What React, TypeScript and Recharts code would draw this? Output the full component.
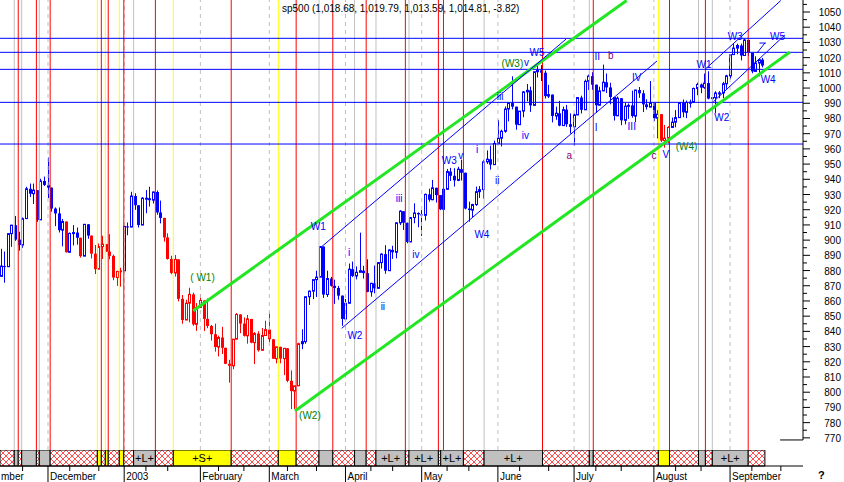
import React from "react";
import {
  ComposedChart,
  Bar,
  Line,
  XAxis,
  YAxis,
  ReferenceLine,
  ReferenceArea,
  ReferenceDot,
} from "recharts";

// trading day index 0 = 2002-11-11 ... 211 = 2003-09-15
const opens = [
  894.74, 876.19, 882.95, 882.53, 904.27, 909.83, 900.36, 896.74, 914.15, 933.76,
  930.55, 932.87, 913.31, 938.87, 936.31, 934.53, 920.75, 917.58, 906.55, 912.23,
  892.0, 904.45, 904.96, 901.58, 889.48, 910.4, 902.99, 891.12, 880.9, 895.76,
  897.38, 892.47, 889.66, 875.4, 879.39, 879.82, 909.03, 908.59, 929.01, 922.93,
  909.93, 927.57, 927.57, 926.26, 931.66, 918.22, 914.6, 901.78, 887.62, 878.36,
  887.34, 861.4, 847.48, 858.54, 864.36, 844.61, 855.7, 860.32, 848.2, 843.59,
  838.15, 829.69, 835.97, 829.2, 818.68, 817.37, 834.89, 851.17, 845.13, 837.1,
  848.17, 832.58, 838.57, 827.55, 837.28, 841.15, 834.81, 821.99, 829.85, 822.1,
  828.89, 807.48, 800.73, 804.19, 831.9, 833.27, 862.79, 866.45, 874.02, 875.67,
  895.79, 864.23, 874.74, 869.95, 868.52, 863.5, 848.18, 858.48, 880.9, 876.45,
  878.85, 879.93, 878.29, 865.99, 871.58, 868.3, 885.23, 890.81, 879.91, 893.58,
  892.01, 911.37, 919.02, 911.43, 898.81, 914.84, 917.84, 916.92, 916.3, 930.08,
  926.55, 934.39, 929.62, 920.27, 933.41, 945.11, 942.3, 939.28, 946.67, 944.3,
  920.77, 919.73, 923.42, 931.87, 933.22, 951.48, 953.22, 949.64, 963.59, 967.0,
  971.56, 986.24, 990.14, 987.76, 975.93, 984.84, 997.48, 998.51, 988.61, 1010.74,
  1011.66, 1010.09, 994.7, 995.69, 981.64, 983.45, 975.32, 985.82, 976.22, 974.5,
  982.32, 993.75, 985.7, 1004.42, 1007.84, 1002.21, 988.7, 998.14, 1003.86, 1000.42,
  994.09, 981.73, 993.32, 978.8, 988.11, 988.61, 981.6, 998.68, 996.52, 989.28,
  987.49, 990.31, 980.15, 982.82, 965.46, 967.08, 974.12, 977.59, 980.59, 990.35,
  984.03, 990.51, 990.67, 999.74, 1002.35, 1000.3, 1003.27, 993.06, 993.71, 996.73,
  996.79, 1002.84, 1008.01, 1021.99, 1026.27, 1027.97, 1021.39, 1031.64, 1023.17, 1010.92,
  1016.42, 1018.68,
];
const highs = [
  894.9, 894.3, 892.5, 904.3, 910.1, 915.9, 905.5, 915.0, 935.1, 937.2,
  937.2, 932.9, 940.4, 941.8, 954.3, 934.6, 921.5, 921.5, 913.9, 912.3,
  905.0, 909.9, 908.3, 901.6, 910.5, 910.5, 903.0, 896.8, 897.8, 902.9,
  897.5, 903.9, 890.5, 879.9, 881.9, 909.1, 911.6, 931.8, 930.8, 923.0,
  928.3, 932.9, 935.1, 932.0, 932.6, 926.0, 914.7, 904.5, 889.7, 890.2,
  887.4, 863.9, 860.8, 868.7, 865.5, 858.6, 864.6, 860.4, 861.6, 844.2,
  845.1, 837.2, 843.0, 829.3, 821.3, 834.9, 852.0, 851.2, 849.2, 850.8,
  848.2, 839.5, 840.1, 842.2, 847.0, 852.3, 835.0, 829.9, 829.9, 829.0,
  829.0, 814.3, 804.3, 832.5, 841.4, 862.9, 866.9, 874.1, 879.9, 895.9,
  895.9, 879.9, 875.8, 874.0, 869.9, 863.6, 861.3, 884.6, 885.9, 882.7,
  904.9, 883.1, 887.4, 872.0, 883.3, 885.3, 891.3, 896.7, 893.8, 896.3,
  911.7, 919.7, 919.1, 911.5, 915.0, 924.2, 918.3, 919.7, 930.6, 933.8,
  939.6, 934.5, 929.7, 933.8, 946.8, 947.5, 947.3, 948.2, 952.9, 944.4,
  925.3, 923.9, 935.2, 935.5, 952.8, 959.0, 962.1, 965.4, 979.1, 972.6,
  987.9, 990.2, 1007.7, 987.8, 984.9, 998.0, 1002.7, 1000.9, 1010.9, 1015.3,
  1015.1, 1011.5, 1002.1, 995.8, 987.8, 991.6, 987.8, 988.9, 983.3, 983.3,
  993.8, 995.0, 1005.6, 1008.9, 1010.4, 1002.3, 1000.9, 1015.4, 1009.6, 1003.5,
  994.2, 994.5, 993.4, 990.3, 989.9, 998.3, 998.9, 1000.7, 998.6, 992.6,
  1004.6, 990.4, 985.5, 982.9, 975.7, 974.9, 980.6, 985.5, 990.4, 992.5,
  991.8, 992.4, 1000.3, 1003.5, 1003.0, 1009.5, 1011.0, 993.8, 997.9, 998.0,
  1004.1, 1008.7, 1022.0, 1029.3, 1029.2, 1029.2, 1032.4, 1031.7, 1023.2, 1020.9,
  1019.6, 1019.79,
];
const lows = [
  874.9, 876.1, 872.0, 882.5, 895.6, 899.5, 893.1, 894.9, 914.1, 928.4,
  923.8, 912.1, 913.3, 935.6, 927.7, 918.7, 909.2, 905.0, 895.9, 891.9,
  891.9, 896.5, 897.0, 888.5, 889.4, 900.9, 887.9, 877.7, 880.9, 887.6,
  892.3, 887.5, 873.6, 869.9, 869.4, 879.8, 903.2, 908.5, 919.9, 908.3,
  909.9, 917.7, 922.1, 924.1, 916.7, 911.0, 899.0, 887.2, 877.6, 876.0,
  859.7, 845.0, 847.4, 845.9, 843.7, 840.3, 855.6, 840.2, 842.1, 833.9,
  826.7, 823.5, 825.1, 818.5, 806.3, 815.1, 834.8, 838.8, 836.6, 831.9,
  832.2, 818.5, 826.7, 827.5, 837.2, 832.7, 821.9, 819.0, 819.0, 811.2,
  806.6, 788.9, 789.0, 804.1, 828.3, 831.9, 857.4, 861.2, 862.6, 875.6,
  862.0, 862.6, 869.4, 858.1, 860.8, 843.7, 847.9, 858.4, 875.7, 874.2,
  878.8, 874.7, 865.7, 862.8, 865.0, 868.2, 881.3, 877.9, 879.8, 887.7,
  888.0, 909.9, 906.7, 897.9, 898.7, 911.1, 908.5, 902.8, 912.9, 925.3,
  926.3, 924.7, 919.7, 920.2, 933.3, 938.9, 935.2, 938.8, 939.2, 920.2,
  912.1, 914.8, 922.5, 927.7, 927.3, 950.1, 946.4, 949.6, 963.5, 961.6,
  970.7, 978.1, 986.0, 972.6, 975.9, 980.8, 991.3, 984.3, 988.5, 1007.0,
  1004.6, 993.1, 993.4, 977.4, 979.1, 974.9, 975.2, 974.5, 970.1, 962.1,
  982.2, 983.3, 985.6, 998.7, 998.9, 983.6, 988.6, 998.0, 996.7, 989.3,
  978.6, 981.6, 975.6, 976.1, 979.8, 980.5, 977.6, 993.6, 984.2, 985.9,
  987.4, 978.3, 966.8, 964.4, 960.8, 963.8, 973.8, 974.2, 980.5, 980.8,
  980.2, 987.1, 990.6, 995.3, 996.6, 999.5, 992.6, 983.6, 983.6, 993.3,
  993.3, 999.5, 1005.7, 1021.9, 1022.2, 1018.2, 1021.3, 1021.1, 1009.7, 1010.9,
  1007.7, 1013.59,
];
const closes = [
  876.19, 882.95, 882.53, 904.27, 909.83, 900.36, 896.74, 914.15, 933.76, 930.55,
  932.87, 913.31, 938.87, 936.31, 934.53, 920.75, 917.58, 906.55, 912.23, 892.0,
  904.45, 904.96, 901.58, 889.48, 910.4, 902.99, 891.12, 880.9, 895.76, 897.38,
  892.47, 889.66, 875.4, 879.39, 879.82, 909.03, 908.59, 929.01, 922.93, 909.93,
  927.57, 927.57, 926.26, 931.66, 918.22, 914.6, 901.78, 887.62, 878.36, 887.34,
  861.4, 847.48, 858.54, 864.36, 844.61, 855.7, 860.32, 848.2, 843.59, 838.15,
  829.69, 835.97, 829.2, 818.68, 817.37, 834.89, 851.17, 845.13, 837.1, 848.17,
  832.58, 838.57, 827.55, 837.28, 841.15, 834.81, 821.99, 829.85, 822.1, 828.89,
  807.48, 800.73, 804.19, 831.9, 833.27, 862.79, 866.45, 874.02, 875.67, 895.79,
  864.23, 874.74, 869.95, 868.52, 863.5, 848.18, 858.48, 880.9, 876.45, 878.85,
  879.93, 878.29, 865.99, 871.58, 868.3, 885.23, 890.81, 879.91, 893.58, 892.01,
  911.37, 919.02, 911.43, 898.81, 914.84, 917.84, 916.92, 916.3, 930.08, 926.55,
  934.39, 929.62, 920.27, 933.41, 945.11, 942.3, 939.28, 946.67, 944.3, 920.77,
  919.73, 923.42, 931.87, 933.22, 951.48, 953.22, 949.64, 963.59, 967.0, 971.56,
  986.24, 990.14, 987.76, 975.93, 984.84, 997.48, 998.51, 988.61, 1010.74, 1011.66,
  1010.09, 994.7, 995.69, 981.64, 983.45, 975.32, 985.82, 976.22, 974.5, 982.32,
  993.75, 985.7, 1004.42, 1007.84, 1002.21, 988.7, 998.14, 1003.86, 1000.42, 994.09,
  981.73, 993.32, 978.8, 988.11, 988.61, 981.6, 998.68, 996.52, 989.28, 987.49,
  990.31, 980.15, 982.82, 965.46, 967.08, 974.12, 977.59, 980.59, 990.35, 984.03,
  990.51, 990.67, 999.74, 1002.35, 1000.3, 1003.27, 993.06, 993.71, 996.73, 996.79,
  1002.84, 1008.01, 1021.99, 1026.27, 1027.97, 1021.39, 1031.64, 1023.17, 1010.92, 1016.42,
  1018.63, 1014.81,
];
// bars drawn red (the rest blue)
const redRuns = [[19, 19], [23, 23], [26, 34], [46, 83], [183, 185]];

// x axis: month starts and mid-month ticks (trading day index)
const monthStarts = [-6, 14, 35, 56, 75, 96, 117, 138, 159, 181, 202];
const monthNames = ["mber", "December", "2003", "February", "March", "April", "May", "June", "July", "August", "September"];
const minorDays = [7, 20, 28, 41, 47, 61, 68, 80, 88, 103, 109, 124, 130, 144, 152, 165, 172, 187, 194, 208, 216];

const yMajor = [770, 780, 790, 800, 810, 820, 830, 840, 850, 860, 870, 880, 890, 900, 910, 920, 930, 940, 950, 960, 970, 980, 990, 1000, 1010, 1020, 1030, 1040, 1050];
const yMinor = [775, 785, 795, 805, 815, 825, 835, 845, 855, 865, 875, 885, 895, 905, 915, 925, 935, 945, 955, 965, 975, 985, 995, 1005, 1015, 1025, 1035, 1045, 1055];

// marker lines
const redLines = [5.8, 10.8, 14.6, 28.7, 30.6, 34.9, 43.6, 64.5, 82.4, 92.5, 101.7, 112.5, 121.6, 123.0, 128.5, 150.3, 164.3, 185.3, 195.2, 207.0];
const yellowLines = [27.6, 29.8, 33.65, 48.54, 77.48, 182.23];
const grayLines = [4.7, 6.75, 11.6, 37.6, 88.7, 98.5, 104.4, 113.5, 134.2, 163.2, 193.3, 197.1];
const levelLines = [1032.7, 1023.5, 1012.3, 990.6, 963.2];

// signal strip: start index, state, label
const strip: [number, string, string][] = [
  [0.772, "x", ""], [4.7, "g", ""], [5.8, "x", ""], [6.75, "g", ""], [10.8, "x", ""],
  [11.6, "g", ""], [14.6, "x", ""], [27.6, "y", ""], [28.7, "x", ""], [29.8, "y", ""],
  [30.6, "x", ""], [33.65, "y", ""], [34.9, "x", ""], [37.6, "g", "+L+"], [43.6, "x", ""],
  [48.54, "y", "+S+"], [64.5, "x", ""], [77.48, "y", ""], [82.4, "x", ""], [88.7, "g", ""],
  [92.5, "x", ""], [98.5, "g", ""], [101.7, "x", ""], [104.4, "g", "+L+"], [112.5, "x", ""],
  [113.5, "g", "+L+"], [121.6, "x", ""], [122.25, "g", "+L+"], [128.5, "x", ""], [134.2, "g", "+L+"],
  [150.3, "x", ""], [163.2, "g", ""], [164.3, "x", ""], [182.23, "y", ""], [185.3, "x", ""],
  [193.3, "g", ""], [195.2, "x", ""], [197.1, "g", "+L+"], [207.0, "x", ""],
];
const stripEnd = 211.6;

// trend channels: [i1, v1, i2, v2]
const greenChannel = [
  [54.05, 853.6, 173.5, 1057.6],
  [82.08, 787.7, 218.5, 1023.7],
];
const blueChannel = [
  [89.44, 895.7, 156.8, 1032.2],
  [94.95, 842.0, 181.86, 1017.8],
  [195.1, 1012.3, 216.0, 1057.6],
  [197.4, 991.0, 217.1, 1034.9],
  [209.4, 1023.0, 211.6, 1029.6],
  [210.1, 1029.6, 211.9, 1029.6],
];

const GREEN_T = "#008000";
const BLUE = "#0000ff";
const RED = "#ff0000";
const PURPLE = "#800080";
const waveLabels: [number, number, string, string][] = [
  [56.6, 875.4, "( W1)", GREEN_T], [86.2, 784.4, "(W2)", GREEN_T], [142.0, 1016.3, "(W3)", GREEN_T], [190.0, 961.9, "(W4)", GREEN_T],
  [88.5, 908.8, "W1", BLUE], [97.0, 892.0, "i", BLUE], [98.6, 837.2, "W2", BLUE], [106.3, 856.7, "ii", BLUE],
  [110.8, 927.1, "iii", BLUE], [115.4, 890.3, "iv", BLUE], [124.6, 952.7, "W3", BLUE], [127.8, 956.0, "v", BLUE],
  [132.3, 959.7, "i", BLUE], [133.6, 903.9, "W4", BLUE], [137.8, 939.5, "ii", BLUE], [138.6, 994.3, "iii", BLUE],
  [145.6, 969.1, "iv", BLUE], [145.9, 1017.1, "v", BLUE], [148.8, 1023.4, "W5", BLUE], [165.4, 1021.1, "II", BLUE],
  [165.1, 974.4, "I", BLUE], [176.3, 1006.8, "IV", BLUE], [174.9, 975.0, "III", BLUE], [184.3, 956.4, "V", BLUE],
  [194.8, 1015.2, "W1", BLUE], [203.4, 1034.2, "W3", BLUE], [215.1, 1034.2, "W5", BLUE], [199.7, 980.8, "W2", BLUE],
  [212.5, 1005.8, "W4", BLUE],
  [157.7, 956.0, "a", PURPLE], [169.1, 1021.7, "b", PURPLE], [181.0, 956.0, "c", PURPLE],
];

const X_DOMAIN: [number, number] = [0.772, 222.1];
const Y_DOMAIN: [number, number] = [762.0, 1057.9];
const FONT = '"Liberation Sans", Arial, sans-serif';

const candles = closes.map((c, i) => ({
  i,
  o: opens[i],
  h: highs[i],
  l: lows[i],
  c,
  red: redRuns.some(([a, b]) => i >= a && i <= b),
}));

const last = candles.length - 1;
const fmt = (n: number) => n.toLocaleString("en-US", { minimumFractionDigits: 2, maximumFractionDigits: 2 });
const title = `sp500 (${fmt(opens[last])}, ${fmt(highs[last])}, ${fmt(lows[last])}, ${fmt(closes[last])}, ${(closes[last] - closes[last - 1]).toFixed(2)})`;

function Candle(props: any) {
  const { x, y, width, height, payload } = props;
  if (!payload || height == null) return null;
  const { o, h, l, c, red } = payload;
  const color = red ? RED : BLUE;
  const cx = Math.round(x + width / 2) + 0.5;
  const k = h - l > 0 ? height / (h - l) : 0;
  const yo = y + (h - o) * k;
  const yc = y + (h - c) * k;
  const top = Math.min(yo, yc);
  const bh = Math.max(Math.abs(yc - yo), 1);
  const filled = c < o;
  return (
    <g>
      <line x1={cx} x2={cx} y1={y} y2={y + height} stroke={color} strokeWidth={1} />
      {filled ? (
        <rect x={cx - 1.5} y={top} width={3} height={bh} fill={color} />
      ) : (
        <rect x={cx - 1} y={top} width={2} height={bh} fill="#fff" stroke={color} strokeWidth={1} />
      )}
    </g>
  );
}

function YTick(props: any) {
  const { x, y, payload } = props;
  const v = payload.value;
  const major = yMajor.includes(v);
  return (
    <g>
      <line x1={x} x2={x + (major ? 7 : 4)} y1={y} y2={y} stroke="#000" />
      {major && (
        <text x={x + 38} y={y + 4} textAnchor="end" fontSize={10} fill="#000">
          {v}
        </text>
      )}
    </g>
  );
}

function XTick(props: any) {
  const { x, y, payload } = props;
  const m = monthStarts.indexOf(payload.value);
  if (m >= 0) {
    return (
      <g>
        <line x1={x} x2={x} y1={y} y2={y + 16} stroke="#000" />
        <text x={Math.max(x + 2, 1)} y={y + 14} fontSize={10} fill="#000">
          {monthNames[m]}
        </text>
      </g>
    );
  }
  return <line x1={x} x2={x} y1={y} y2={y + 5} stroke="#000" />;
}

const stripFill: Record<string, string> = { x: "url(#hatch)", g: "#c0c0c0", y: "#ffff00" };

export default function App() {
  return (
    <div
      style={{
        position: "absolute",
        left: 0,
        top: 0,
        width: 844,
        height: 482,
        background: "#fff",
        fontFamily: FONT,
        overflow: "hidden",
      }}
    >
      <svg width={0} height={0} style={{ position: "absolute" }}>
        <defs>
          <pattern id="hatch" width={6} height={6} patternUnits="userSpaceOnUse">
            <rect width={6} height={6} fill="#fff" />
            <path d="M0,0L6,6M6,0L0,6" stroke={RED} strokeWidth={0.7} />
          </pattern>
        </defs>
      </svg>

      <div style={{ position: "absolute", left: 0, top: 0 }}>
        <ComposedChart width={844} height={450} data={candles} margin={{ top: 0, right: 0, bottom: 0, left: 0 }}>
          <XAxis type="number" dataKey="i" domain={X_DOMAIN} allowDataOverflow hide />
          <YAxis
            orientation="right"
            type="number"
            domain={Y_DOMAIN}
            allowDataOverflow
            width={41}
            ticks={[...yMajor, ...yMinor]}
            interval={0}
            tick={<YTick />}
            axisLine={false}
            tickLine={false}
            tickSize={0}
            tickMargin={0}
          />
          {monthStarts.slice(1).map((d) => (
            <ReferenceLine key={`m${d}`} x={d} stroke="#c0c0c0" strokeDasharray="4 4" />
          ))}
          {grayLines.map((d) => (
            <ReferenceLine key={`g${d}`} x={d} stroke="#c0c0c0" />
          ))}
          {yellowLines.map((d) => (
            <ReferenceLine key={`y${d}`} x={d} stroke="#ffff00" />
          ))}
          {redLines.map((d) => (
            <ReferenceLine key={`r${d}`} x={d} stroke={RED} />
          ))}
          {levelLines.map((v) => (
            <ReferenceLine key={`h${v}`} y={v} stroke={BLUE} />
          ))}
          <Bar dataKey={(d: any) => [d.l, d.h]} barSize={3} shape={<Candle />} isAnimationActive={false} />
          {greenChannel.map(([a, b, c, d], k) => (
            <ReferenceLine
              key={`gc${k}`}
              segment={[{ x: a, y: b }, { x: c, y: d }]}
              stroke="#22e622"
              strokeWidth={3}
              ifOverflow="visible"
            />
          ))}
          {blueChannel.map(([a, b, c, d], k) => (
            <ReferenceLine
              key={`bc${k}`}
              segment={[{ x: a, y: b }, { x: c, y: d }]}
              stroke={BLUE}
              strokeWidth={1}
              ifOverflow="visible"
            />
          ))}
          <ReferenceLine
            segment={[{ x: X_DOMAIN[1], y: 768.6 }, { x: X_DOMAIN[1], y: Y_DOMAIN[1] }]}
            stroke="#000"
            ifOverflow="visible"
          />
          <ReferenceLine
            segment={[{ x: 215.8, y: 768.6 }, { x: X_DOMAIN[1], y: 768.6 }]}
            stroke="#000"
            ifOverflow="visible"
          />
          {waveLabels.map(([i, v, t, c], k) => (
            <ReferenceDot
              key={`w${k}`}
              x={i}
              y={v}
              r={0}
              fill="none"
              stroke="none"
              ifOverflow="visible"
              label={{ value: t, position: "center", fill: c, fontSize: 10, fontFamily: FONT }}
            />
          ))}
        </ComposedChart>
      </div>

      <div style={{ position: "absolute", left: 0, top: 450 }}>
        <ComposedChart width={844} height={32} data={candles} margin={{ top: 0, right: 41, bottom: 0, left: 0 }}>
          <XAxis
            type="number"
            dataKey="i"
            domain={X_DOMAIN}
            allowDataOverflow
            height={16}
            ticks={[...monthStarts, ...minorDays]}
            interval={0}
            tick={<XTick />}
            tickLine={false}
            tickSize={0}
            tickMargin={0}
            axisLine={{ stroke: "#000" }}
          />
          <YAxis type="number" domain={[0, 1]} allowDataOverflow hide />
          <Line dataKey={() => 0.5} stroke="none" dot={false} activeDot={false} isAnimationActive={false} />
          {strip.map(([from, kind, label], k) => (
            <ReferenceArea
              key={`s${k}`}
              x1={from}
              x2={k + 1 < strip.length ? strip[k + 1][0] : stripEnd}
              y1={0}
              y2={1}
              fill={stripFill[kind]}
              fillOpacity={1}
              stroke="#000"
              strokeWidth={1}
              ifOverflow="visible"
              label={label ? { value: label, position: "center", fill: "#000", fontSize: 11, fontFamily: FONT } : undefined}
            />
          ))}
        </ComposedChart>
      </div>

      <div
        style={{
          position: "absolute",
          left: 282,
          top: 3,
          fontSize: 10,
          lineHeight: "12px",
          color: "#000",
          whiteSpace: "nowrap",
        }}
      >
        {title}
      </div>
      <div style={{ position: "absolute", left: 818, top: 469, fontSize: 11, fontWeight: "bold", color: "#000" }}>?</div>
    </div>
  );
}
